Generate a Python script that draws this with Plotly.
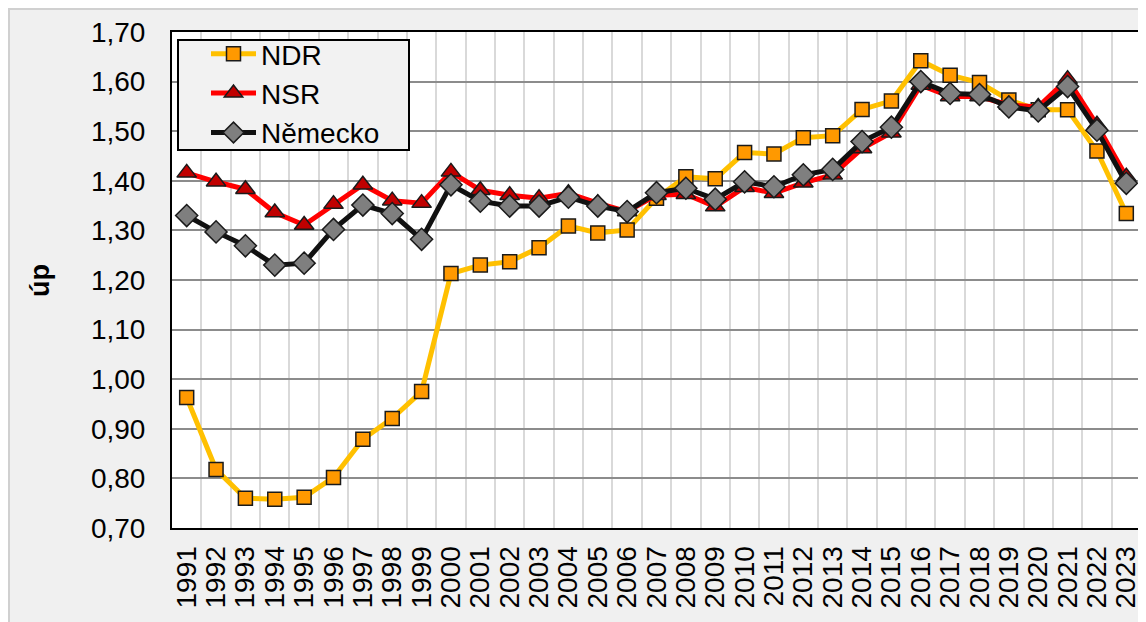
import plotly.graph_objects as go

years = [str(y) for y in range(1991, 2024)]

ndr = [0.963, 0.818, 0.760, 0.758, 0.762, 0.802, 0.879, 0.921, 0.975, 1.213,
       1.230, 1.237, 1.265, 1.309, 1.295, 1.301, 1.365, 1.408, 1.404, 1.457,
       1.454, 1.487, 1.491, 1.544, 1.561, 1.642, 1.613, 1.598, 1.563, 1.543,
       1.543, 1.460, 1.334]

nsr = [1.416, 1.398, 1.383, 1.336, 1.311, 1.353, 1.392, 1.360, 1.355, 1.418,
       1.381, 1.371, 1.365, 1.375, 1.355, 1.338, 1.371, 1.373, 1.348, 1.387,
       1.375, 1.396, 1.412, 1.465, 1.497, 1.593, 1.570, 1.570, 1.553, 1.549,
       1.605, 1.513, 1.408]

nemecko = [1.330, 1.297, 1.269, 1.230, 1.234, 1.302, 1.351, 1.334, 1.282, 1.392,
           1.359, 1.349, 1.349, 1.367, 1.349, 1.338, 1.376, 1.385, 1.363, 1.398,
           1.388, 1.412, 1.423, 1.479, 1.508, 1.600, 1.576, 1.574, 1.549, 1.541,
           1.590, 1.502, 1.395]

series_names = ["NDR", "NSR", "Německo"]
y_title = "úp"

# page is offset by the default 8px body margin
OFF = 8
PAGE_W, PAGE_H = 1146, 622
PLOT_L, PLOT_R, PLOT_T, PLOT_B = 172, 1141, 32, 528   # page pixels
W, H = PAGE_W - OFF, PAGE_H - OFF
L, T = PLOT_L - OFF, PLOT_T - OFF
R, B = PAGE_W - PLOT_R, PAGE_H - PLOT_B
pw, ph = PLOT_R - PLOT_L, PLOT_B - PLOT_T


def px_x(p):
    return (p - PLOT_L) / pw


def px_y(p):
    return (PLOT_B - p) / ph


fig = go.Figure()
fig.add_trace(go.Scatter(
    x=years, y=ndr, name=series_names[0], mode="lines+markers",
    line=dict(color="#FFC000", width=5),
    marker=dict(symbol="square", size=14, color="#FF9900",
                line=dict(color="#1a1a1a", width=1.5))))
fig.add_trace(go.Scatter(
    x=years, y=nsr, name=series_names[1], mode="lines+markers",
    line=dict(color="#FF0000", width=5),
    marker=dict(symbol="triangle-up", size=17, color="#C00000",
                line=dict(color="#1a1a1a", width=1.5))))
fig.add_trace(go.Scatter(
    x=years, y=nemecko, name=series_names[2], mode="lines+markers",
    line=dict(color="#111111", width=5),
    marker=dict(symbol="diamond", size=17, color="#7f7f7f",
                line=dict(color="#1a1a1a", width=1.5))))

font_family = "Liberation Sans, Arial, sans-serif"

fig.update_layout(
    width=W, height=H,
    margin=dict(l=L, r=R, t=T, b=B, pad=0),
    paper_bgcolor="#f0f0f0",
    plot_bgcolor="#ffffff",
    separators=", ",
    font=dict(family=font_family, size=28, color="#000000"),
    showlegend=True,
    legend=dict(
        x=px_x(206), y=px_y(29), xanchor="left", yanchor="top",
        bgcolor="rgba(0,0,0,0)", borderwidth=0,
        font=dict(size=28, family=font_family),
        itemwidth=45, tracegroupgap=0,
    ),
    xaxis=dict(
        type="category", tickson="boundaries", tickmode="linear", dtick=1,
        range=[-0.5, len(years) - 0.5], autorange=False,
        tickangle=-90, showgrid=True, gridcolor="#d9d9d9", gridwidth=2,
        showline=True, linecolor="#000000", linewidth=2, mirror=True,
        ticks="", ticklabelstandoff=5, automargin=False,
        tickfont=dict(size=28, family=font_family),
    ),
    yaxis=dict(
        range=[0.70, 1.70], dtick=0.1, tick0=0.7, tickformat=".2f",
        showgrid=True, gridcolor="#8c8c8c", gridwidth=1.5,
        showline=True, linecolor="#000000", linewidth=2, mirror=True,
        ticks="", ticklabelstandoff=19, zeroline=False, automargin=False,
        tickfont=dict(size=28, family=font_family),
    ),
    annotations=[dict(
        text="<b>" + y_title + "</b>", textangle=-90,
        x=px_x(40), y=px_y(281), xref="paper", yref="paper",
        xanchor="center", yanchor="middle",
        showarrow=False, font=dict(size=27, family=font_family),
    )],
    shapes=[
        # legend box
        dict(type="rect", xref="paper", yref="paper",
             x0=px_x(178), x1=px_x(409), y0=px_y(150), y1=px_y(40),
             fillcolor="#f2f2f2", line=dict(color="#000000", width=2),
             layer="above"),
        # thin frame lines at top and left of the chart area
        dict(type="line", xref="paper", yref="paper",
             x0=px_x(OFF), x1=px_x(PAGE_W), y0=px_y(OFF + 1), y1=px_y(OFF + 1),
             line=dict(color="#d0d0d0", width=2), layer="above"),
        dict(type="line", xref="paper", yref="paper",
             x0=px_x(OFF + 1), x1=px_x(OFF + 1), y0=px_y(PAGE_H), y1=px_y(OFF),
             line=dict(color="#d0d0d0", width=2), layer="above"),
    ],
)

fig.write_html("out.html")
